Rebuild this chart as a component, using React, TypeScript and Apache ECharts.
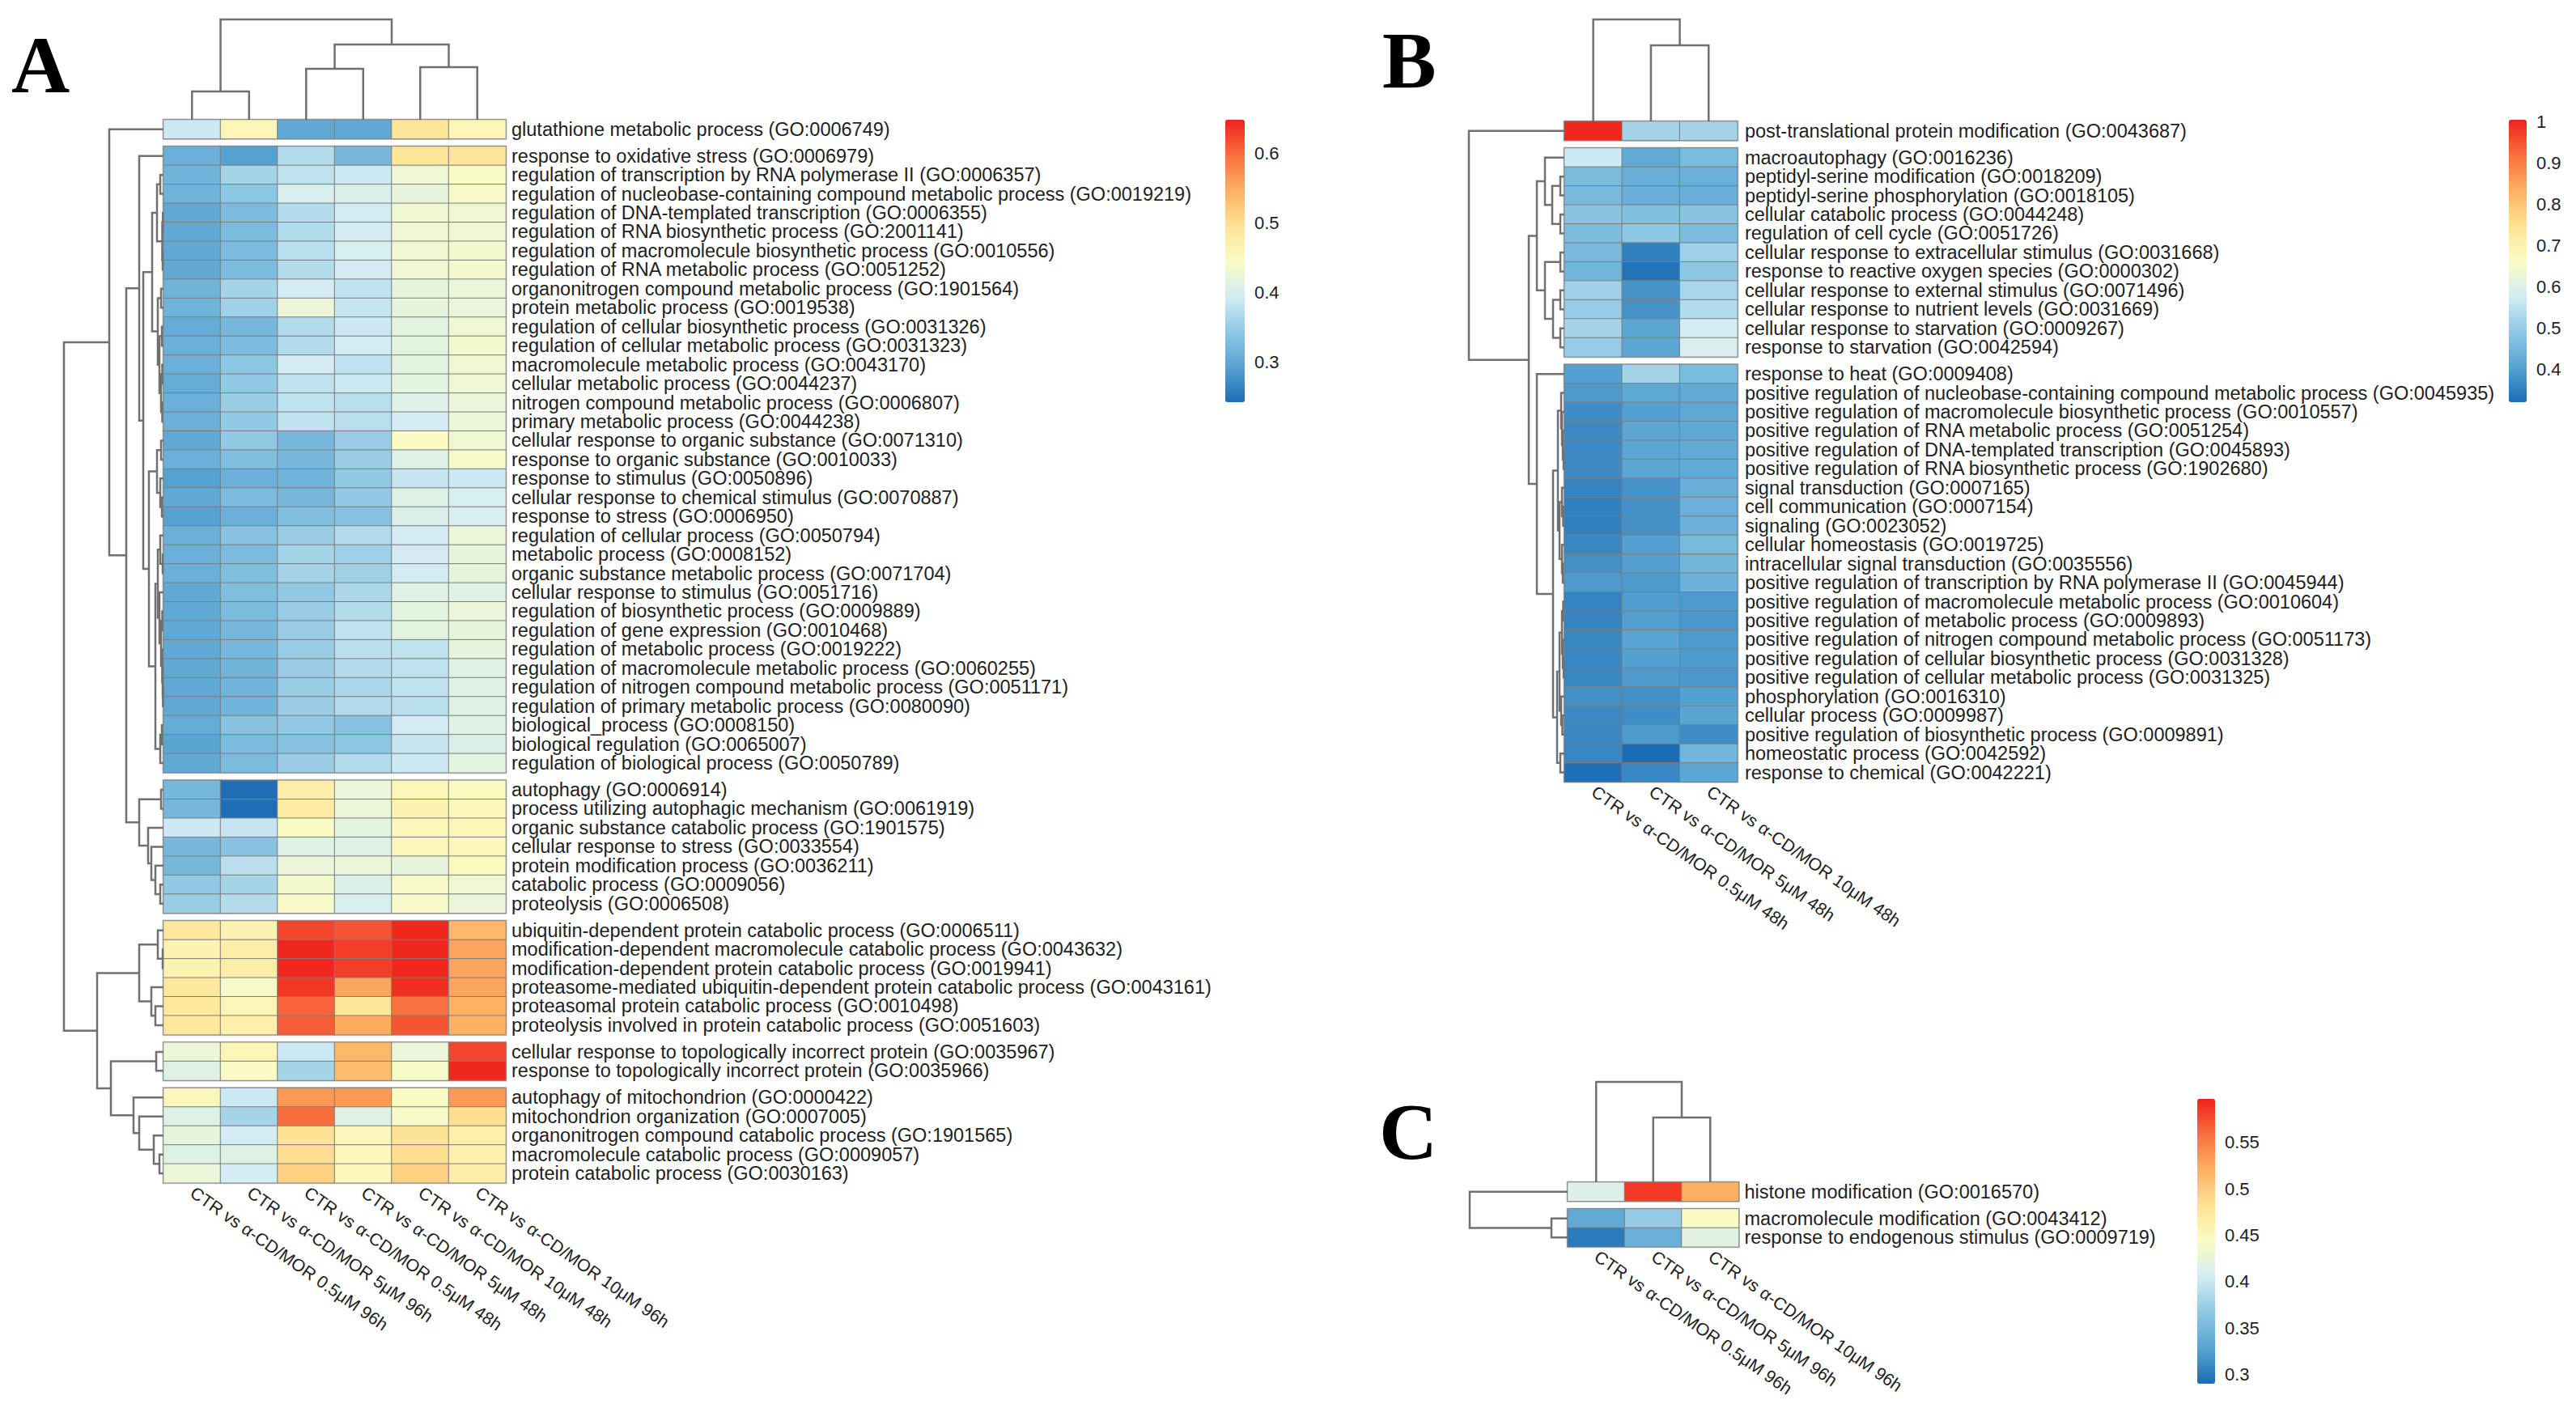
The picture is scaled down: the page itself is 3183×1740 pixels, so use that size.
import React, { useEffect, useRef } from 'react';
import * as echarts from 'echarts';

const W = 3183;
const H = 1740;
const FONT = '"Liberation Sans", Arial, sans-serif';
const PALETTE = ['#1c6cb4', '#58a4d2', '#8fc8e3', '#d2ecf4', '#fafcc4', '#fee394', '#fdb062', '#f8703f', '#ef221b'];

type Node = number | [number, Node, Node];
const shift = (n: Node, k: number): Node =>
  typeof n === 'number' ? n + k : [n[0], shift(n[1], k), shift(n[2], k)];

// ---------------- Panel A ----------------
const A_COLS = [
  'CTR vs α-CD/MOR 0.5μM 96h', 'CTR vs α-CD/MOR 5μM 96h', 'CTR vs α-CD/MOR 0.5μM 48h',
  'CTR vs α-CD/MOR 5μM 48h', 'CTR vs α-CD/MOR 10μM 48h', 'CTR vs α-CD/MOR 10μM 96h',
];
const A_ROWS = [
  'glutathione metabolic process (GO:0006749)',
  'response to oxidative stress (GO:0006979)',
  'regulation of transcription by RNA polymerase II (GO:0006357)',
  'regulation of nucleobase-containing compound metabolic process (GO:0019219)',
  'regulation of DNA-templated transcription (GO:0006355)',
  'regulation of RNA biosynthetic process (GO:2001141)',
  'regulation of macromolecule biosynthetic process (GO:0010556)',
  'regulation of RNA metabolic process (GO:0051252)',
  'organonitrogen compound metabolic process (GO:1901564)',
  'protein metabolic process (GO:0019538)',
  'regulation of cellular biosynthetic process (GO:0031326)',
  'regulation of cellular metabolic process (GO:0031323)',
  'macromolecule metabolic process (GO:0043170)',
  'cellular metabolic process (GO:0044237)',
  'nitrogen compound metabolic process (GO:0006807)',
  'primary metabolic process (GO:0044238)',
  'cellular response to organic substance (GO:0071310)',
  'response to organic substance (GO:0010033)',
  'response to stimulus (GO:0050896)',
  'cellular response to chemical stimulus (GO:0070887)',
  'response to stress (GO:0006950)',
  'regulation of cellular process (GO:0050794)',
  'metabolic process (GO:0008152)',
  'organic substance metabolic process (GO:0071704)',
  'cellular response to stimulus (GO:0051716)',
  'regulation of biosynthetic process (GO:0009889)',
  'regulation of gene expression (GO:0010468)',
  'regulation of metabolic process (GO:0019222)',
  'regulation of macromolecule metabolic process (GO:0060255)',
  'regulation of nitrogen compound metabolic process (GO:0051171)',
  'regulation of primary metabolic process (GO:0080090)',
  'biological_process (GO:0008150)',
  'biological regulation (GO:0065007)',
  'regulation of biological process (GO:0050789)',
  'autophagy (GO:0006914)',
  'process utilizing autophagic mechanism (GO:0061919)',
  'organic substance catabolic process (GO:1901575)',
  'cellular response to stress (GO:0033554)',
  'protein modification process (GO:0036211)',
  'catabolic process (GO:0009056)',
  'proteolysis (GO:0006508)',
  'ubiquitin-dependent protein catabolic process (GO:0006511)',
  'modification-dependent macromolecule catabolic process (GO:0043632)',
  'modification-dependent protein catabolic process (GO:0019941)',
  'proteasome-mediated ubiquitin-dependent protein catabolic process (GO:0043161)',
  'proteasomal protein catabolic process (GO:0010498)',
  'proteolysis involved in protein catabolic process (GO:0051603)',
  'cellular response to topologically incorrect protein (GO:0035967)',
  'response to topologically incorrect protein (GO:0035966)',
  'autophagy of mitochondrion (GO:0000422)',
  'mitochondrion organization (GO:0007005)',
  'organonitrogen compound catabolic process (GO:1901565)',
  'macromolecule catabolic process (GO:0009057)',
  'protein catabolic process (GO:0030163)',
];
const A_BLOCKS = [1, 33, 7, 6, 2, 5];
const A_VALUES = [
  [0.39, 0.46, 0.30, 0.30, 0.49, 0.46],
  [0.31, 0.29, 0.37, 0.32, 0.49, 0.49],
  [0.315, 0.36, 0.38, 0.39, 0.43, 0.445],
  [0.315, 0.34, 0.40, 0.405, 0.42, 0.44],
  [0.30, 0.325, 0.37, 0.395, 0.43, 0.43],
  [0.30, 0.325, 0.37, 0.395, 0.43, 0.43],
  [0.30, 0.325, 0.375, 0.40, 0.43, 0.435],
  [0.30, 0.325, 0.37, 0.395, 0.43, 0.435],
  [0.315, 0.36, 0.395, 0.38, 0.42, 0.425],
  [0.315, 0.355, 0.425, 0.385, 0.42, 0.425],
  [0.305, 0.32, 0.37, 0.39, 0.415, 0.43],
  [0.31, 0.325, 0.37, 0.395, 0.415, 0.435],
  [0.31, 0.34, 0.395, 0.38, 0.415, 0.43],
  [0.305, 0.345, 0.38, 0.39, 0.415, 0.43],
  [0.31, 0.35, 0.38, 0.375, 0.41, 0.425],
  [0.31, 0.345, 0.38, 0.375, 0.395, 0.425],
  [0.30, 0.345, 0.32, 0.35, 0.445, 0.43],
  [0.31, 0.33, 0.32, 0.35, 0.41, 0.44],
  [0.29, 0.31, 0.315, 0.345, 0.385, 0.39],
  [0.30, 0.325, 0.32, 0.345, 0.41, 0.40],
  [0.29, 0.31, 0.33, 0.335, 0.405, 0.40],
  [0.31, 0.335, 0.35, 0.37, 0.395, 0.425],
  [0.31, 0.325, 0.36, 0.355, 0.395, 0.42],
  [0.31, 0.33, 0.36, 0.355, 0.395, 0.42],
  [0.30, 0.33, 0.345, 0.365, 0.41, 0.41],
  [0.30, 0.325, 0.35, 0.37, 0.415, 0.425],
  [0.30, 0.32, 0.35, 0.38, 0.415, 0.42],
  [0.30, 0.32, 0.35, 0.375, 0.38, 0.42],
  [0.30, 0.315, 0.35, 0.37, 0.38, 0.41],
  [0.30, 0.315, 0.35, 0.365, 0.38, 0.41],
  [0.30, 0.315, 0.35, 0.37, 0.375, 0.41],
  [0.305, 0.335, 0.345, 0.335, 0.395, 0.41],
  [0.295, 0.325, 0.335, 0.34, 0.385, 0.405],
  [0.30, 0.325, 0.35, 0.37, 0.39, 0.415],
  [0.32, 0.245, 0.475, 0.425, 0.46, 0.45],
  [0.32, 0.245, 0.48, 0.425, 0.465, 0.455],
  [0.39, 0.385, 0.445, 0.415, 0.455, 0.46],
  [0.32, 0.335, 0.41, 0.41, 0.455, 0.455],
  [0.32, 0.375, 0.425, 0.425, 0.42, 0.45],
  [0.345, 0.36, 0.435, 0.405, 0.44, 0.43],
  [0.35, 0.37, 0.44, 0.40, 0.44, 0.425],
  [0.485, 0.465, 0.625, 0.615, 0.645, 0.54],
  [0.465, 0.475, 0.645, 0.63, 0.645, 0.555],
  [0.465, 0.475, 0.645, 0.63, 0.645, 0.555],
  [0.485, 0.44, 0.635, 0.555, 0.64, 0.555],
  [0.485, 0.46, 0.605, 0.49, 0.595, 0.545],
  [0.485, 0.47, 0.61, 0.55, 0.615, 0.545],
  [0.425, 0.46, 0.39, 0.54, 0.425, 0.625],
  [0.41, 0.445, 0.36, 0.535, 0.44, 0.645],
  [0.455, 0.39, 0.565, 0.565, 0.445, 0.565],
  [0.41, 0.36, 0.60, 0.41, 0.44, 0.50],
  [0.42, 0.395, 0.495, 0.455, 0.495, 0.47],
  [0.41, 0.41, 0.50, 0.455, 0.50, 0.47],
  [0.425, 0.395, 0.515, 0.455, 0.515, 0.475],
];
// block sub-trees, leaf indices local to their block: [height, left, right]
const A_T2: Node = [30, 0, [25,
  [14, [8, [4, 1, 2], [1.5, [0.8, 3, 4], [1, 5, 6]]],
       [7, [3, 7, 8], [5, [2, 9, 10], [3, [1.5, 11, 12], [1.5, 13, 14]]]]],
  [18, [8, [3, 15, 16], [4, 17, [2, 18, 19]]],
       [10, [7, [4, 20, [1, 21, 22]], [5, 23, [3, [1.5, 24, 25], [1.5, 26, [1, 27, [0.6, 28, 29]]]]]],
            [4, [2, 30, 31], 32]]]]];
const A_T3: Node = [30, [3, 0, 1], [19, 2, [15, 3, [10, 4, [4, 5, 6]]]]];
const A_T4: Node = [30, [7, 0, [1, 1, 2]], [15, 3, [10, 4, 5]]];
const A_T5: Node = [9, 0, 1];
const A_T6: Node = [37, 0, [30, 1, [12, 2, [5, 3, 4]]]];
const A_ROW_TREE: Node = [123,
  [67, 0, [46, shift(A_T2, 1), shift(A_T3, 34)]],
  [82, shift(A_T4, 41), [65, shift(A_T5, 47), shift(A_T6, 49)]]];
const A_COL_TREE: Node = [124, [35, 0, 1], [93, [63, 2, 3], [65, 4, 5]]];
const A_RANGE = [0.242, 0.648];
const A_TICKS = [0.3, 0.4, 0.5, 0.6];

// ---------------- Panel B ----------------
const B_COLS = ['CTR vs α-CD/MOR 0.5μM 48h', 'CTR vs α-CD/MOR 5μM 48h', 'CTR vs α-CD/MOR 10μM 48h'];
const B_ROWS = [
  'post-translational protein modification (GO:0043687)',
  'macroautophagy (GO:0016236)',
  'peptidyl-serine modification (GO:0018209)',
  'peptidyl-serine phosphorylation (GO:0018105)',
  'cellular catabolic process (GO:0044248)',
  'regulation of cell cycle (GO:0051726)',
  'cellular response to extracellular stimulus (GO:0031668)',
  'response to reactive oxygen species (GO:0000302)',
  'cellular response to external stimulus (GO:0071496)',
  'cellular response to nutrient levels (GO:0031669)',
  'cellular response to starvation (GO:0009267)',
  'response to starvation (GO:0042594)',
  'response to heat (GO:0009408)',
  'positive regulation of nucleobase-containing compound metabolic process (GO:0045935)',
  'positive regulation of macromolecule biosynthetic process (GO:0010557)',
  'positive regulation of RNA metabolic process (GO:0051254)',
  'positive regulation of DNA-templated transcription (GO:0045893)',
  'positive regulation of RNA biosynthetic process (GO:1902680)',
  'signal transduction (GO:0007165)',
  'cell communication (GO:0007154)',
  'signaling (GO:0023052)',
  'cellular homeostasis (GO:0019725)',
  'intracellular signal transduction (GO:0035556)',
  'positive regulation of transcription by RNA polymerase II (GO:0045944)',
  'positive regulation of macromolecule metabolic process (GO:0010604)',
  'positive regulation of metabolic process (GO:0009893)',
  'positive regulation of nitrogen compound metabolic process (GO:0051173)',
  'positive regulation of cellular biosynthetic process (GO:0031328)',
  'positive regulation of cellular metabolic process (GO:0031325)',
  'phosphorylation (GO:0016310)',
  'cellular process (GO:0009987)',
  'positive regulation of biosynthetic process (GO:0009891)',
  'homeostatic process (GO:0042592)',
  'response to chemical (GO:0042221)',
];
const B_BLOCKS = [1, 11, 22];
const B_VALUES = [
  [1.0, 0.52, 0.52],
  [0.57, 0.42, 0.46],
  [0.46, 0.43, 0.435],
  [0.455, 0.43, 0.43],
  [0.48, 0.47, 0.48],
  [0.46, 0.49, 0.46],
  [0.455, 0.35, 0.51],
  [0.445, 0.33, 0.49],
  [0.51, 0.38, 0.525],
  [0.50, 0.38, 0.535],
  [0.52, 0.41, 0.58],
  [0.50, 0.41, 0.59],
  [0.40, 0.52, 0.46],
  [0.39, 0.415, 0.42],
  [0.37, 0.40, 0.415],
  [0.365, 0.41, 0.415],
  [0.365, 0.41, 0.42],
  [0.365, 0.41, 0.42],
  [0.355, 0.38, 0.43],
  [0.35, 0.375, 0.435],
  [0.35, 0.375, 0.435],
  [0.36, 0.40, 0.455],
  [0.375, 0.40, 0.445],
  [0.39, 0.39, 0.44],
  [0.355, 0.395, 0.39],
  [0.355, 0.40, 0.385],
  [0.36, 0.405, 0.39],
  [0.36, 0.40, 0.39],
  [0.36, 0.39, 0.385],
  [0.375, 0.375, 0.40],
  [0.365, 0.37, 0.405],
  [0.36, 0.39, 0.37],
  [0.36, 0.32, 0.445],
  [0.325, 0.36, 0.41],
];
const B_T2: Node = [34, [24, 0, [15, [5, 1, 2], [5, 3, 4]]], [24, [5, 5, 6], [14, [5, 7, 8], [5, 9, 10]]]];
const B_T3: Node = [34, 0, [14,
  [8, [4, 1, [3, 2, [2, 3, [1, 4, 5]]]], [6, [3, 6, [1.5, 7, 8]], [3, 9, [2, 10, 11]]]],
  [9, [6, [3, [1.5, 12, 13], [2, 14, [1, 15, 16]]], [4, 17, [2.5, 18, 19]]], [5, 20, 21]]]];
const B_ROW_TREE: Node = [118, 0, [44, shift(B_T2, 1), shift(B_T3, 12)]];
const B_COL_TREE: Node = [126, 0, [94, 1, 2]];
const B_RANGE = [0.32, 1.005];
const B_TICKS = [0.4, 0.5, 0.6, 0.7, 0.8, 0.9, 1];

// ---------------- Panel C ----------------
const C_COLS = ['CTR vs α-CD/MOR 0.5μM 96h', 'CTR vs α-CD/MOR 5μM 96h', 'CTR vs α-CD/MOR 10μM 96h'];
const C_ROWS = [
  'histone modification (GO:0016570)',
  'macromolecule modification (GO:0043412)',
  'response to endogenous stimulus (GO:0009719)',
];
const C_BLOCKS = [1, 2];
const C_VALUES = [
  [0.415, 0.585, 0.52],
  [0.335, 0.37, 0.445],
  [0.30, 0.34, 0.42],
];
const C_ROW_TREE: Node = [121, 0, [20, 1, 2]];
const C_COL_TREE: Node = [124, 0, [80, 1, 2]];
const C_RANGE = [0.29, 0.597];
const C_TICKS = [0.3, 0.35, 0.4, 0.45, 0.5, 0.55];

// ---------------- layout (pixels) ----------------
const LAYOUT = {
  A: { left: 202, colW: 70.5, top: 148, rowH: 23.45, gap: 9.5, labelMargin: 7, leg: { x: 1514, top: 148, bottom: 497, w: 24 }, letter: { text: 'A', x: 14, y: 30 } },
  B: { left: 1933, colW: 71.3, top: 150, rowH: 23.45, gap: 9.5, labelMargin: 9, leg: { x: 3100, top: 148, bottom: 497, w: 22 }, letter: { text: 'B', x: 1708, y: 24 } },
  C: { left: 1937, colW: 70.5, top: 1461, rowH: 23.45, gap: 9.5, labelMargin: 7, leg: { x: 2715, top: 1358, bottom: 1710, w: 22 }, letter: { text: 'C', x: 1704, y: 1348 } },
};

function layoutTree(n: Node, pos: (i: number) => number, out: number[][][]): { p: number; h: number } {
  if (typeof n === 'number') return { p: pos(n), h: 0 };
  const a = layoutTree(n[1], pos, out);
  const b = layoutTree(n[2], pos, out);
  out.push([[a.p, a.h], [a.p, n[0]], [b.p, n[0]], [b.p, b.h]]);
  return { p: (a.p + b.p) / 2, h: n[0] };
}

const LINE = { color: '#707070', width: 2.5, opacity: 1 };
const hiddenAxis = (gridIndex: number, extra: any = {}) => ({ type: 'value', gridIndex, show: false, ...extra });

function addPanel(o: any, d: any, L: any) {
  const nCols = d.cols.length;
  const gapU = L.gap / L.rowH;
  const blockOf: number[] = [];
  d.blocks.forEach((n: number, b: number) => { for (let i = 0; i < n; i++) blockOf.push(b); });
  const heatIdx: number[] = [];
  let start = 0;
  d.blocks.forEach((n: number, b: number) => {
    const gi = o.grid.length;
    const last = b === d.blocks.length - 1;
    o.grid.push({ left: L.left, top: L.top + (start + b * gapU) * L.rowH, width: nCols * L.colW, height: n * L.rowH, show: true, borderColor: '#cfcfcf', borderWidth: 3, backgroundColor: 'transparent' });
    o.xAxis.push({
      type: 'category', gridIndex: gi, data: d.cols, show: last,
      axisLine: { show: false }, axisTick: { show: false }, splitLine: { show: false },
      axisLabel: { interval: 0, rotate: -35, margin: 10, fontSize: 21.5, fontFamily: FONT, color: '#1e1e1e' },
    });
    o.yAxis.push({
      type: 'category', gridIndex: gi, data: d.rows.slice(start, start + n), inverse: true, position: 'right',
      axisLine: { show: false }, axisTick: { show: false }, splitLine: { show: false },
      axisLabel: { interval: 0, margin: L.labelMargin, fontSize: 23.5, fontFamily: FONT, color: '#1e1e1e' },
    });
    const data: number[][] = [];
    for (let r = 0; r < n; r++) for (let c = 0; c < nCols; c++) data.push([c, r, d.values[start + r][c]]);
    heatIdx.push(o.series.length);
    o.series.push({
      type: 'heatmap', xAxisIndex: gi, yAxisIndex: gi, data, silent: true,
      itemStyle: { borderColor: '#7d7d7d', borderWidth: 1 }, emphasis: { disabled: true },
    });
    start += n;
  });

  // row dendrogram
  const total = d.rows.length + (d.blocks.length - 1) * gapU;
  const rowSegs: number[][][] = [];
  layoutTree(d.rowTree, (i) => i + 0.5 + blockOf[i] * gapU, rowSegs);
  const rootH = (d.rowTree as any)[0];
  let gi = o.grid.length;
  o.grid.push({ left: L.left - rootH, top: L.top, width: rootH, height: total * L.rowH, show: false });
  o.xAxis.push(hiddenAxis(gi, { min: 0, max: rootH, inverse: true }));
  o.yAxis.push(hiddenAxis(gi, { min: 0, max: total, inverse: true }));
  o.series.push({
    type: 'lines', coordinateSystem: 'cartesian2d', xAxisIndex: gi, yAxisIndex: gi, polyline: true, silent: true, clip: false,
    lineStyle: LINE, data: rowSegs.map((s) => ({ coords: s.map(([p, h]) => [h, p]) })),
  });

  // column dendrogram
  const colSegs: number[][][] = [];
  layoutTree(d.colTree, (i) => i + 0.5, colSegs);
  const colH = (d.colTree as any)[0];
  gi = o.grid.length;
  o.grid.push({ left: L.left, top: L.top - colH, width: nCols * L.colW, height: colH, show: false });
  o.xAxis.push(hiddenAxis(gi, { min: 0, max: nCols }));
  o.yAxis.push(hiddenAxis(gi, { min: 0, max: colH }));
  o.series.push({
    type: 'lines', coordinateSystem: 'cartesian2d', xAxisIndex: gi, yAxisIndex: gi, polyline: true, silent: true, clip: false,
    lineStyle: LINE, data: colSegs.map((s) => ({ coords: s })),
  });

  // legend
  const lg = L.leg;
  gi = o.grid.length;
  o.grid.push({ left: lg.x, top: lg.top, width: lg.w, height: lg.bottom - lg.top, show: false });
  o.xAxis.push(hiddenAxis(gi));
  o.yAxis.push({
    type: 'value', gridIndex: gi, min: d.range[0], max: d.range[1], position: 'right',
    axisLine: { show: false }, axisTick: { show: false }, splitLine: { show: false },
    axisLabel: { customValues: d.ticks, margin: 12, fontSize: 22, fontFamily: FONT, color: '#1e1e1e' },
  });
  o.visualMap.push({
    type: 'continuous', min: d.range[0], max: d.range[1], seriesIndex: heatIdx, orient: 'vertical',
    left: lg.x, top: lg.top, itemWidth: lg.w, itemHeight: lg.bottom - lg.top, padding: 0,
    calculable: false, hoverLink: false, inRange: { color: PALETTE },
  });

  o.graphic.push({
    type: 'text', left: L.letter.x, top: L.letter.y,
    style: { text: L.letter.text, fontSize: 100, fontWeight: 'bold', fontFamily: '"Liberation Serif", "Times New Roman", serif', fill: '#000' },
  });
}

function buildOption() {
  const o: any = { grid: [], xAxis: [], yAxis: [], series: [], visualMap: [], graphic: [] };
  addPanel(o, { cols: A_COLS, rows: A_ROWS, blocks: A_BLOCKS, values: A_VALUES, rowTree: A_ROW_TREE, colTree: A_COL_TREE, range: A_RANGE, ticks: A_TICKS }, LAYOUT.A);
  addPanel(o, { cols: B_COLS, rows: B_ROWS, blocks: B_BLOCKS, values: B_VALUES, rowTree: B_ROW_TREE, colTree: B_COL_TREE, range: B_RANGE, ticks: B_TICKS }, LAYOUT.B);
  addPanel(o, { cols: C_COLS, rows: C_ROWS, blocks: C_BLOCKS, values: C_VALUES, rowTree: C_ROW_TREE, colTree: C_COL_TREE, range: C_RANGE, ticks: C_TICKS }, LAYOUT.C);
  return { animation: false, backgroundColor: '#ffffff', textStyle: { fontFamily: FONT }, ...o };
}

export default function App() {
  const ref = useRef<HTMLDivElement>(null);
  useEffect(() => {
    const chart = echarts.init(ref.current as HTMLDivElement, null, { renderer: 'svg' });
    chart.setOption(buildOption());
    return () => chart.dispose();
  }, []);
  return <div ref={ref} style={{ position: 'absolute', left: 0, top: 0, width: W, height: H, background: '#fff' }} />;
}
